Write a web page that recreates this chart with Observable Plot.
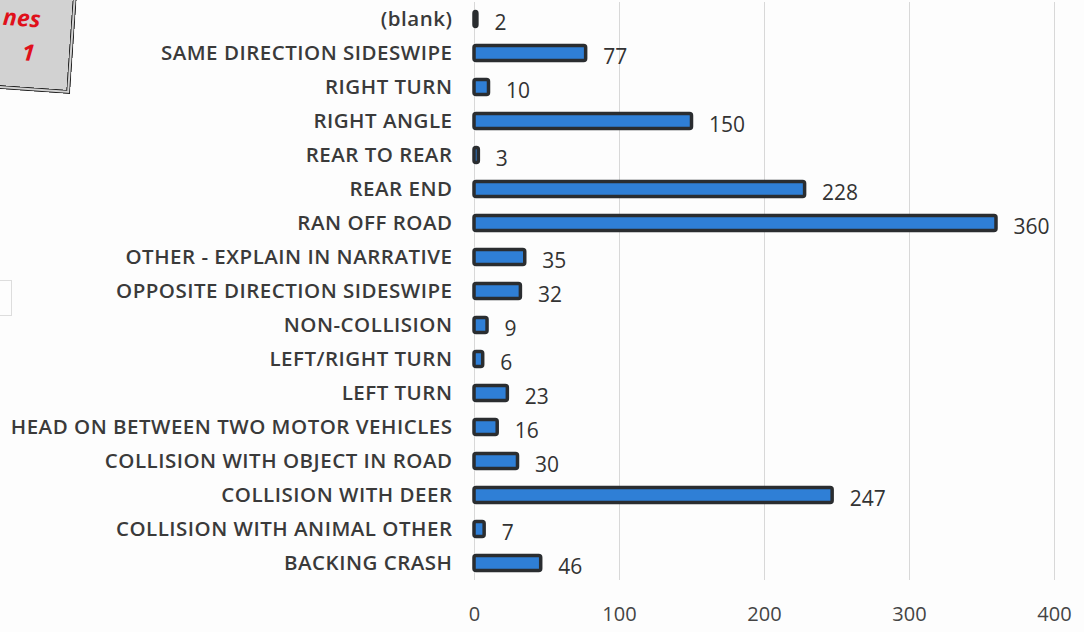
<!DOCTYPE html>
<html>
<head>
<meta charset="utf-8">
<script src="https://cdn.jsdelivr.net/npm/d3@7"></script>
<script src="https://cdn.jsdelivr.net/npm/@observablehq/plot@0.6"></script>
<style>
  html, body { margin: 0; padding: 0; background: #fdfdfd; overflow: hidden; }
  #wrap { position: relative; width: 1084px; height: 632px; }
  #badge {
    position: absolute; left: -60px; top: -30px; width: 126px; height: 120px;
    background: #d2d2d2; border-right: 4px double #222; border-bottom: 4px double #222;
    transform: rotate(4deg); transform-origin: 100% 100%;
  }
  #badgeText {
    position: absolute; left: 2px; top: 0px; width: 34px;
    transform: rotate(4deg);
    font-family: "Open Sans", sans-serif; font-style: italic; font-weight: 700;
    color: #e0101a; font-size: 23px; line-height: 34px; text-align: right;
  }
  #frag { position: absolute; left: -4px; top: 280px; width: 14px; height: 34px; border: 1px solid #ddd; }
  g[aria-label="y-axis tick label"] text { letter-spacing: 0.5px; }
</style>
</head>
<body>
<div id="wrap">
  <div id="chart"></div>
  <div id="badge"></div>
  <div id="badgeText">nes<br>1</div>
  <div id="frag"></div>
</div>
<script>
const categories = [
  "(blank)",
  "SAME DIRECTION SIDESWIPE",
  "RIGHT TURN",
  "RIGHT ANGLE",
  "REAR TO REAR",
  "REAR END",
  "RAN OFF ROAD",
  "OTHER - EXPLAIN IN NARRATIVE",
  "OPPOSITE DIRECTION SIDESWIPE",
  "NON-COLLISION",
  "LEFT/RIGHT TURN",
  "LEFT TURN",
  "HEAD ON BETWEEN TWO MOTOR VEHICLES",
  "COLLISION WITH OBJECT IN ROAD",
  "COLLISION WITH DEER",
  "COLLISION WITH ANIMAL OTHER",
  "BACKING CRASH"
];
const values = [2, 77, 10, 150, 3, 228, 360, 35, 32, 9, 6, 23, 16, 30, 247, 7, 46];
const xTicks = [0, 100, 200, 300, 400];

const data = categories.map((c, i) => ({category: c, value: values[i]}));

const chart = Plot.plot({
  width: 1084,
  height: 632,
  marginLeft: 474,
  marginRight: 30,
  marginTop: 2,
  marginBottom: 52,
  style: {background: "transparent", fontFamily: "'Open Sans', sans-serif"},
  x: {domain: [0, 400], ticks: xTicks, grid: false},
  y: {domain: categories, padding: 0},
  marks: [
    Plot.gridX(xTicks, {stroke: "#d8d8d8", strokeOpacity: 1, strokeWidth: 1}),
    Plot.axisX({ticks: xTicks, tickSize: 0, tickPadding: 26, fontSize: 20, fill: "#444", label: null}),
    Plot.axisY({tickSize: 0, tickPadding: 22, fontSize: 20.5, fontWeight: 600, fill: "#3a3a3a", label: null}),
    Plot.barX(data, {
      x: "value", y: "category",
      fill: "#2f7fd6", stroke: "#2a2d30", strokeWidth: 3.5,
      insetTop: 9.5, insetBottom: 9.5, rx: 2
    }),
    Plot.text(data, {
      x: "value", y: "category", text: d => String(d.value),
      textAnchor: "start", dx: 17, dy: 4, fontSize: 21, fill: "#333"
    })
  ]
});
document.getElementById("chart").appendChild(chart);
</script>
</body>
</html>
